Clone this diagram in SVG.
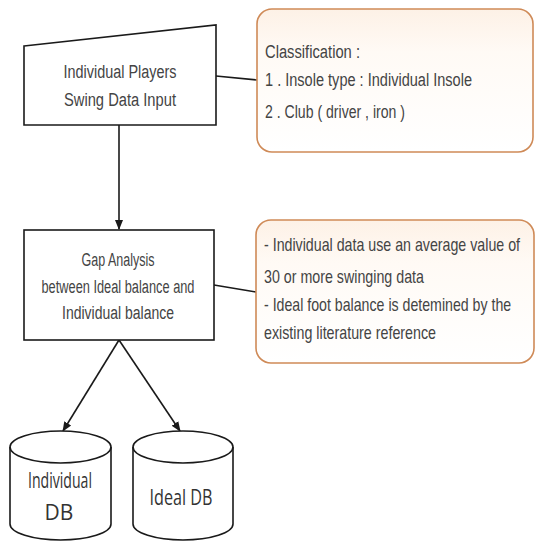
<svg xmlns="http://www.w3.org/2000/svg" width="536" height="542" viewBox="0 0 536 542">
<defs>
<style>
.shape{fill:#ffffff;stroke:#1a1a1a;stroke-width:1.6}
.callout{fill:url(#cg);stroke:#cf8a57;stroke-width:1.6}
.t{font-family:"Liberation Sans",Arial,sans-serif;font-size:18px;fill:#444444}
.c{text-anchor:middle}
.db{font-family:"Open Sans","Liberation Sans",sans-serif;font-size:21px;fill:#333333;text-anchor:middle}
.edge{fill:none;stroke:#1a1a1a;stroke-width:1.6}
</style>
<linearGradient id="cg" x1="0" y1="0" x2="0" y2="1">
<stop offset="0" stop-color="#fdf1e6"/>
<stop offset="0.3" stop-color="#fffaf5"/>
<stop offset="1" stop-color="#ffffff"/>
</linearGradient>
<marker id="arr" markerWidth="10" markerHeight="10" refX="9" refY="5" orient="auto" markerUnits="userSpaceOnUse">
<path d="M0,1 L10,5 L0,9 Z" fill="#1a1a1a"/>
</marker>
</defs>
<rect width="536" height="542" fill="#ffffff"/>
<g id="connectors">
<line class="edge" x1="119" y1="125" x2="119" y2="229" marker-end="url(#arr)"/>
<line class="edge" x1="216" y1="76" x2="257" y2="80"/>
<line class="edge" x1="214" y1="285" x2="256" y2="292"/>
<line class="edge" x1="119" y1="340" x2="63" y2="431" marker-end="url(#arr)"/>
<line class="edge" x1="119" y1="340" x2="180" y2="431" marker-end="url(#arr)"/>
</g>
<g id="input">
<polygon class="shape" points="24,46 216,25 216,125 24,125"/>
<text class="t c" x="120" y="78" textLength="113" lengthAdjust="spacingAndGlyphs">Individual Players</text>
<text class="t c" x="120" y="106" textLength="112" lengthAdjust="spacingAndGlyphs">Swing  Data Input</text>
</g>
<g id="classification">
<rect class="callout" x="257" y="9" width="276" height="143" rx="15"/>
<text class="t" x="265" y="58" textLength="95" lengthAdjust="spacingAndGlyphs">Classification :</text>
<text class="t" x="265" y="86" textLength="207" lengthAdjust="spacingAndGlyphs">1 . Insole type : Individual  Insole</text>
<text class="t" x="265" y="118" textLength="140" lengthAdjust="spacingAndGlyphs">2 . Club ( driver , iron )</text>
</g>
<g id="gap">
<rect class="shape" x="24" y="230" width="190" height="110"/>
<text class="t c" x="118" y="266" textLength="73" lengthAdjust="spacingAndGlyphs">Gap Analysis</text>
<text class="t c" x="118" y="293" textLength="153" lengthAdjust="spacingAndGlyphs">between Ideal balance and</text>
<text class="t c" x="118" y="319" textLength="112" lengthAdjust="spacingAndGlyphs">Individual  balance</text>
</g>
<g id="note">
<rect class="callout" x="256" y="220" width="278" height="143" rx="15"/>
<text class="t" transform="translate(264,251) scale(0.8,1)" x="0" y="0" textLength="320" lengthAdjust="spacingAndGlyphs">- Individual  data use an average value of</text>
<text class="t" transform="translate(264,283) scale(0.8,1)" x="0" y="0" textLength="200" lengthAdjust="spacingAndGlyphs">30 or more swinging data</text>
<text class="t" transform="translate(264,311) scale(0.8,1)" x="0" y="0" textLength="309" lengthAdjust="spacingAndGlyphs">- Ideal foot balance is detemined by the</text>
<text class="t" transform="translate(264,339) scale(0.8,1)" x="0" y="0" textLength="215" lengthAdjust="spacingAndGlyphs">existing literature reference</text>
</g>
<g id="individual-db">
<path class="shape" d="M10,447 L10,524 A50.5,16 0 0 0 111,524 L111,447 A50.5,16 0 0 0 10,447 Z"/>
<path class="edge" d="M10,447 A50.5,16 0 0 0 111,447"/>
<text class="db" x="60" y="488" textLength="64" lengthAdjust="spacingAndGlyphs">Individual</text>
<text class="db" x="59" y="520">DB</text>
</g>
<g id="ideal-db">
<path class="shape" d="M133,447 L133,524 A50,16 0 0 0 233,524 L233,447 A50,16 0 0 0 133,447 Z"/>
<path class="edge" d="M133,447 A50,16 0 0 0 233,447"/>
<text class="db" x="181" y="505" textLength="63" lengthAdjust="spacingAndGlyphs">Ideal DB</text>
</g>
</svg>
